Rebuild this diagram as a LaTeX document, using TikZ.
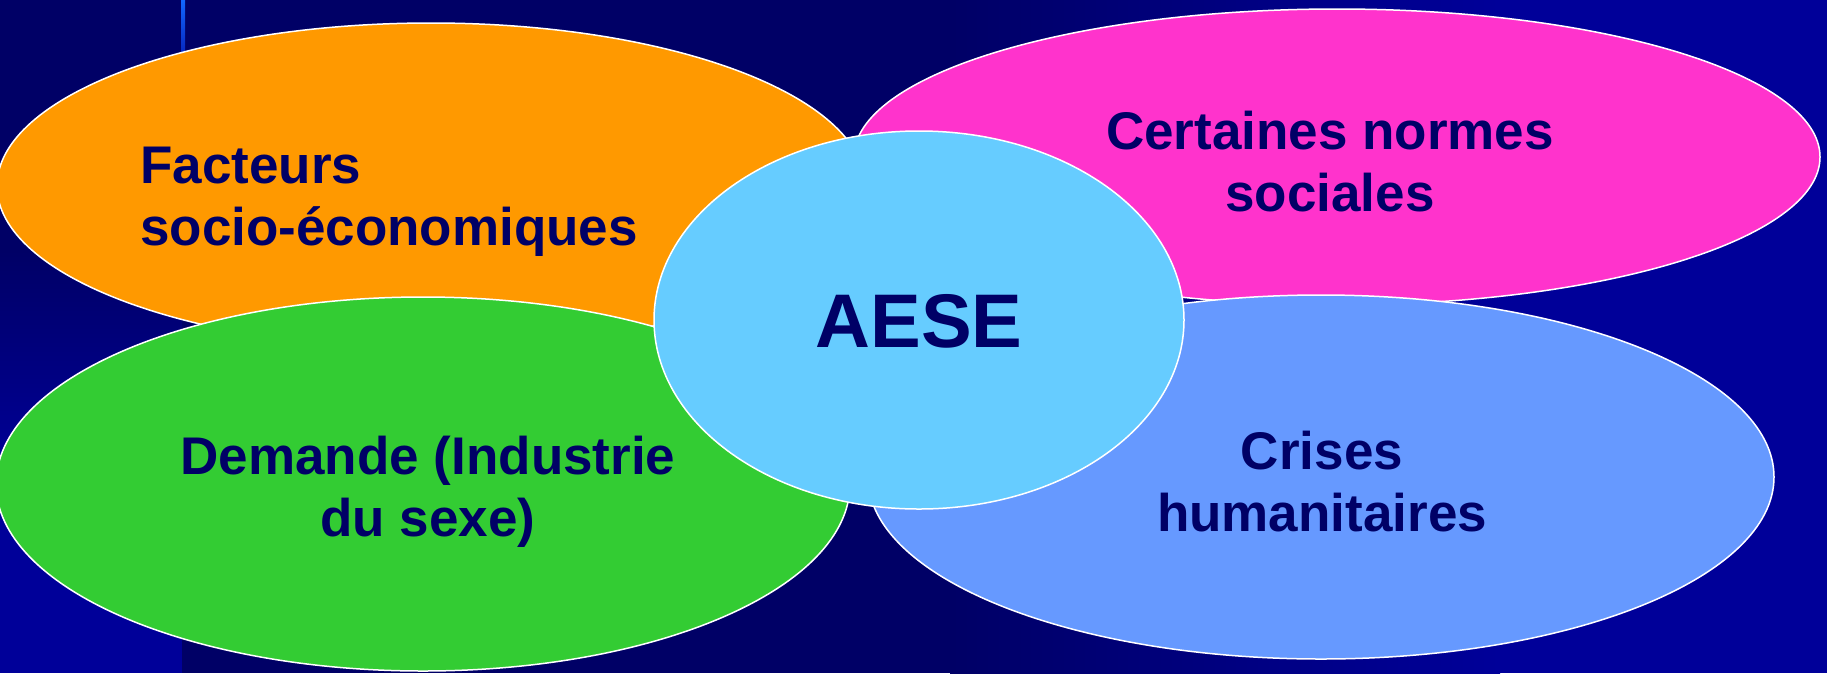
\documentclass[tikz,border=0pt]{standalone}
\usepackage{fontspec}
\setmainfont{Liberation Sans}
\usepackage{tikz}
\usetikzlibrary{shapes.geometric}
\usetikzlibrary{calc}
\definecolor{bgdark}{HTML}{000066}
\definecolor{bglight}{HTML}{000099}
\definecolor{stripe}{HTML}{1166FF}
\definecolor{orangeb}{HTML}{FF9900}
\definecolor{pinkb}{HTML}{FF33CC}
\definecolor{greenb}{HTML}{33CC33}
\definecolor{blueb}{HTML}{6699FF}
\definecolor{skyb}{HTML}{66CCFF}
\def\TxtSize{53}
\def\TxtSkip{62}

\begin{document}
\begin{tikzpicture}[x=1pt,y=-1pt,
	bubble/.style={ellipse,draw=white,line width=1.5pt,inner sep=0pt},
	bubtext/.style={text=bgdark,inner sep=0pt,font=\fontsize{\TxtSize}{\TxtSkip}\selectfont\bfseries}]
	\useasboundingbox (0,0) rectangle (1827,673);
	% background
	\fill[bgdark] (0,0) rectangle (1827,673);
	\shade[left color=bgdark,right color=bglight] (950,0) rectangle (1500,673);
	\fill[bglight] (1500,0) rectangle (1827,673);
	\shade[top color=bgdark,bottom color=bglight] (0,250) rectangle (182,480);
	\fill[bglight] (0,480) rectangle (182,673);
	\shade[top color=stripe,bottom color=bglight!70!stripe] (181,0) rectangle (185,60);
	% 
	\node[bubble,fill=orangeb,minimum width=868pt,minimum height=326pt] (fact) at (431,186) {};
	\node[bubble,fill=pinkb,minimum width=966pt,minimum height=296pt] (norm) at (1337,157) {};
	\node[bubble,fill=greenb,minimum width=854pt,minimum height=374pt] (dem) at (423,484) {};
	\node[bubble,fill=blueb,minimum width=906pt,minimum height=364pt] (crise) at (1321,477) {};
	\node[bubble,fill=skyb,minimum width=530pt,minimum height=378pt] (aese) at (919,320) {};
	% base anchor sits on the last line
	\node[bubtext,align=left,anchor=base west] (factT) at ($(fact)+(-291,59)$) {Facteurs\\socio-économiques};
	\node[bubtext,align=center,anchor=base] (normT) at ($(norm)+(-7,54)$) {Certaines normes\\sociales};
	\node[bubtext,align=center,anchor=base] (demT) at ($(dem)+(5,52)$) {Demande (Industrie\\du sexe)};
	\node[bubtext,align=center,anchor=base] (criseT) at ($(crise)+(1,54)$) {Crises\\humanitaires};
	\node[bubtext,font=\fontsize{76}{88}\selectfont\bfseries] (aeseT) at ($(aese)+(0,27)$) [anchor=base] {AESE};
\end{tikzpicture}
\end{document}
